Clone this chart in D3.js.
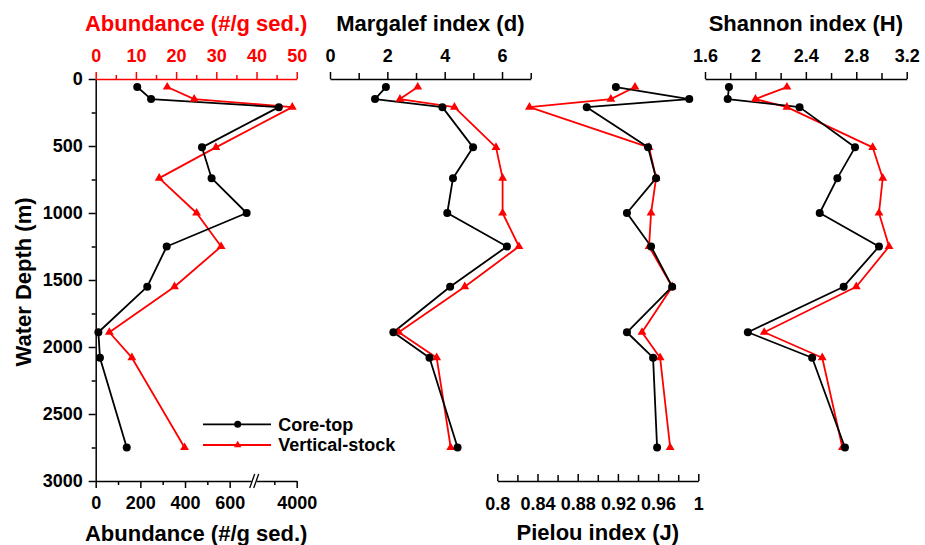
<!DOCTYPE html>
<html>
<head>
<meta charset="utf-8">
<script src="https://cdn.jsdelivr.net/npm/d3@7"></script>
<style>
  body { margin: 0; background: #fff; }
  svg { display: block; font-family: "Liberation Sans", Arial, sans-serif; font-weight: bold; }
</style>
</head>
<body>
<div id="chart"></div>
<script>
// sampling depths (m), shared by every panel
const depths = [60, 150, 210, 510, 740, 1000, 1250, 1550, 1890, 2080, 2750];

// abundance: core-top on the bottom (broken) axis, vertical-stock on the red top axis
const coreAbundance = [186, 248, 3920, 476, 519, 676, 318, 231, 12, 19, 139];
const stockAbundance = [17.8, 24.5, 48.9, 29.9, 15.8, 25.1, 31.2, 19.6, 3.4, 9.0, 22.1];

// diversity indices
const coreMargalef = [1.95, 1.57, 3.92, 4.99, 4.29, 4.09, 6.17, 4.19, 2.21, 3.47, 4.45];
const stockMargalef = [3.06, 2.44, 4.34, 5.79, 6.02, 6.02, 6.59, 4.70, 2.40, 3.72, 4.21];
const corePielou = [0.918, 0.991, 0.889, 0.950, 0.958, 0.929, 0.953, 0.974, 0.929, 0.955, 0.959];
const stockPielou = [0.937, 0.913, 0.832, 0.951, 0.958, 0.953, 0.951, 0.974, 0.944, 0.962, 0.972];
const coreShannon = [1.79, 1.78, 2.35, 2.79, 2.65, 2.51, 2.98, 2.70, 1.94, 2.45, 2.71];
const stockShannon = [2.25, 2.00, 2.25, 2.93, 3.01, 2.98, 3.06, 2.80, 2.07, 2.53, 2.69];

// tick values
const depthTicks = [0, 500, 1000, 1500, 2000, 2500, 3000];
const depthMinor = [250, 750, 1250, 1750, 2250, 2750];
const abTopTicks = [0, 10, 20, 30, 40, 50];
const abTopMinor = [5, 15, 25, 35, 45];
const abBottomTicks = [0, 200, 400, 600, 4000];
const abBottomMinor = [100, 300, 500, 3900];
const margalefTicks = [0, 2, 4, 6];
const margalefMinor = [1, 3, 5, 7];
const pielouTicks = [0.8, 0.84, 0.88, 0.92, 0.96, 1];
const pielouMinor = [0.82, 0.86, 0.9, 0.94, 0.98];
const shannonTicks = [1.6, 2, 2.4, 2.8, 3.2];
const shannonMinor = [1.8, 2.2, 2.6, 3.0];

const seriesNames = ["Core-top", "Vertical-stock"];

const width = 925, height = 545;
const RED = "#ff0000";

const svg = d3.select("#chart").append("svg")
  .attr("width", width)
  .attr("height", height);

// scales
const y = d3.scaleLinear().domain([0, 3000]).range([79, 481]);
const xAbTop = d3.scaleLinear().domain([0, 50]).range([95.7, 296.7]);
const xAbBottom = d3.scaleLinear().domain([0, 700, 3820, 4000]).range([95.7, 252, 256.4, 296.7]);
const xMarg = d3.scaleLinear().domain([0, 7]).range([330, 530.7]);
const xPiel = d3.scaleLinear().domain([0.8, 1]).range([497.3, 698.3]);
const xShan = d3.scaleLinear().domain([1.6, 3.2]).range([705, 906.7]);

const fmt = d => String(+d.toFixed(2));

// draws an axis with labelled major ticks plus short unlabelled minor ticks
function drawAxis(axisFn, scale, pos, major, minor, opts) {
  const o = Object.assign({ size: 7, minorSize: 4, pad: 9, color: "#000", inward: false }, opts);
  const sign = o.inward ? -1 : 1;
  const g = svg.append("g").attr("transform", pos);
  g.call(axisFn(scale).tickValues(major).tickFormat(fmt)
    .tickSizeInner(sign * o.size).tickSizeOuter(0).tickPadding(o.inward ? o.pad + o.size : o.pad));
  g.append("g").call(axisFn(scale).tickValues(minor).tickFormat("")
    .tickSizeInner(sign * o.minorSize).tickSizeOuter(0))
    .select(".domain").remove();
  g.attr("font-size", 18).attr("font-family", null);
  g.selectAll("path, line").attr("stroke", o.color).attr("stroke-width", 1.5);
  g.selectAll("text").attr("fill", o.color).attr("font-weight", "bold");
  return g;
}

// depth axis
drawAxis(d3.axisLeft, y, "translate(95.7,0)", depthTicks, depthMinor, { pad: 6 });

// abundance axes
drawAxis(d3.axisTop, xAbTop, "translate(0,79)", abTopTicks, abTopMinor, { color: RED, pad: 10 });
drawAxis(d3.axisBottom, xAbBottom, "translate(0,481)", abBottomTicks, abBottomMinor, { pad: 8 });

// axis break marks on the bottom abundance axis
const bx = (xAbBottom(700) + xAbBottom(3820)) / 2;
svg.append("rect")
  .attr("x", bx - 2.5).attr("y", 478).attr("width", 5).attr("height", 6)
  .attr("fill", "#fff");
svg.append("g").attr("stroke", "#000").attr("stroke-width", 1.3)
  .selectAll("line").data([-2, 2]).join("line")
  .attr("x1", d => bx + d - 2.5).attr("y1", 488)
  .attr("x2", d => bx + d + 2.5).attr("y2", 474);

// index axes
drawAxis(d3.axisTop, xMarg, "translate(0,79)", margalefTicks, margalefMinor, { pad: 10, minorSize: 6 });
drawAxis(d3.axisTop, xShan, "translate(0,79)", shannonTicks, shannonMinor, { pad: 10, minorSize: 6 });
drawAxis(d3.axisBottom, xPiel, "translate(0,481)", pielouTicks, pielouMinor, { inward: true, pad: 9, minorSize: 6 });

// axis titles
const titles = [
  { text: "Abundance (#/g sed.)", x: (95.7 + 296.7) / 2, y: 31, color: RED },
  { text: "Margalef index (d)", x: (330 + 530.7) / 2, y: 31, color: "#000" },
  { text: "Shannon index (H)", x: (705 + 906.7) / 2, y: 31, color: "#000" },
  { text: "Abundance (#/g sed.)", x: (95.7 + 296.7) / 2, y: 541, color: "#000" },
  { text: "Pielou index (J)", x: (497.3 + 698.3) / 2, y: 540, color: "#000" }
];
svg.append("g").attr("font-size", 22).attr("text-anchor", "middle")
  .selectAll("text").data(titles).join("text")
  .attr("x", d => d.x).attr("y", d => d.y)
  .attr("fill", d => d.color)
  .text(d => d.text);

svg.append("text")
  .attr("transform", "translate(31,282) rotate(-90)")
  .attr("text-anchor", "middle")
  .attr("font-size", 22)
  .text("Water Depth (m)");

// series
const panels = [
  { core: coreAbundance, stock: stockAbundance, xc: xAbBottom, xs: xAbTop },
  { core: coreMargalef, stock: stockMargalef, xc: xMarg, xs: xMarg },
  { core: corePielou, stock: stockPielou, xc: xPiel, xs: xPiel },
  { core: coreShannon, stock: stockShannon, xc: xShan, xs: xShan }
];

const tri = d3.symbol().type(d3.symbolTriangle).size(34);

panels.forEach(p => {
  const coreLine = d3.line().x((d, i) => p.xc(d)).y((d, i) => y(depths[i]));
  const stockLine = d3.line().x((d, i) => p.xs(d)).y((d, i) => y(depths[i]));

  svg.append("path").datum(p.stock)
    .attr("fill", "none").attr("stroke", RED).attr("stroke-width", 1.8)
    .attr("stroke-linejoin", "round").attr("d", stockLine);
  svg.append("path").datum(p.core)
    .attr("fill", "none").attr("stroke", "#000").attr("stroke-width", 1.8)
    .attr("stroke-linejoin", "round").attr("d", coreLine);

  svg.append("g").attr("fill", RED)
    .selectAll("path").data(p.stock).join("path")
    .attr("transform", (d, i) => `translate(${p.xs(d)},${y(depths[i])})`)
    .attr("d", tri);
  svg.append("g").attr("fill", "#000")
    .selectAll("circle").data(p.core).join("circle")
    .attr("cx", d => p.xc(d)).attr("cy", (d, i) => y(depths[i]))
    .attr("r", 4);
});

// legend
const legend = svg.append("g").attr("font-size", 18)
  .selectAll("g").data(seriesNames).join("g")
  .attr("transform", (d, i) => `translate(203,${424.3 + i * 20.7})`);

legend.append("line")
  .attr("x1", 0).attr("x2", 68)
  .attr("stroke", (d, i) => i ? RED : "#000")
  .attr("stroke-width", 1.8);
legend.each(function (d, i) {
  const g = d3.select(this);
  if (i === 0) g.append("circle").attr("cx", 34.7).attr("r", 3.5).attr("fill", "#000");
  else g.append("path").attr("transform", "translate(34.7,0)")
    .attr("d", d3.symbol().type(d3.symbolTriangle).size(24)).attr("fill", RED);
});
legend.append("text")
  .attr("x", 75.3).attr("dy", "0.35em")
  .text(d => d);
</script>
</body>
</html>
